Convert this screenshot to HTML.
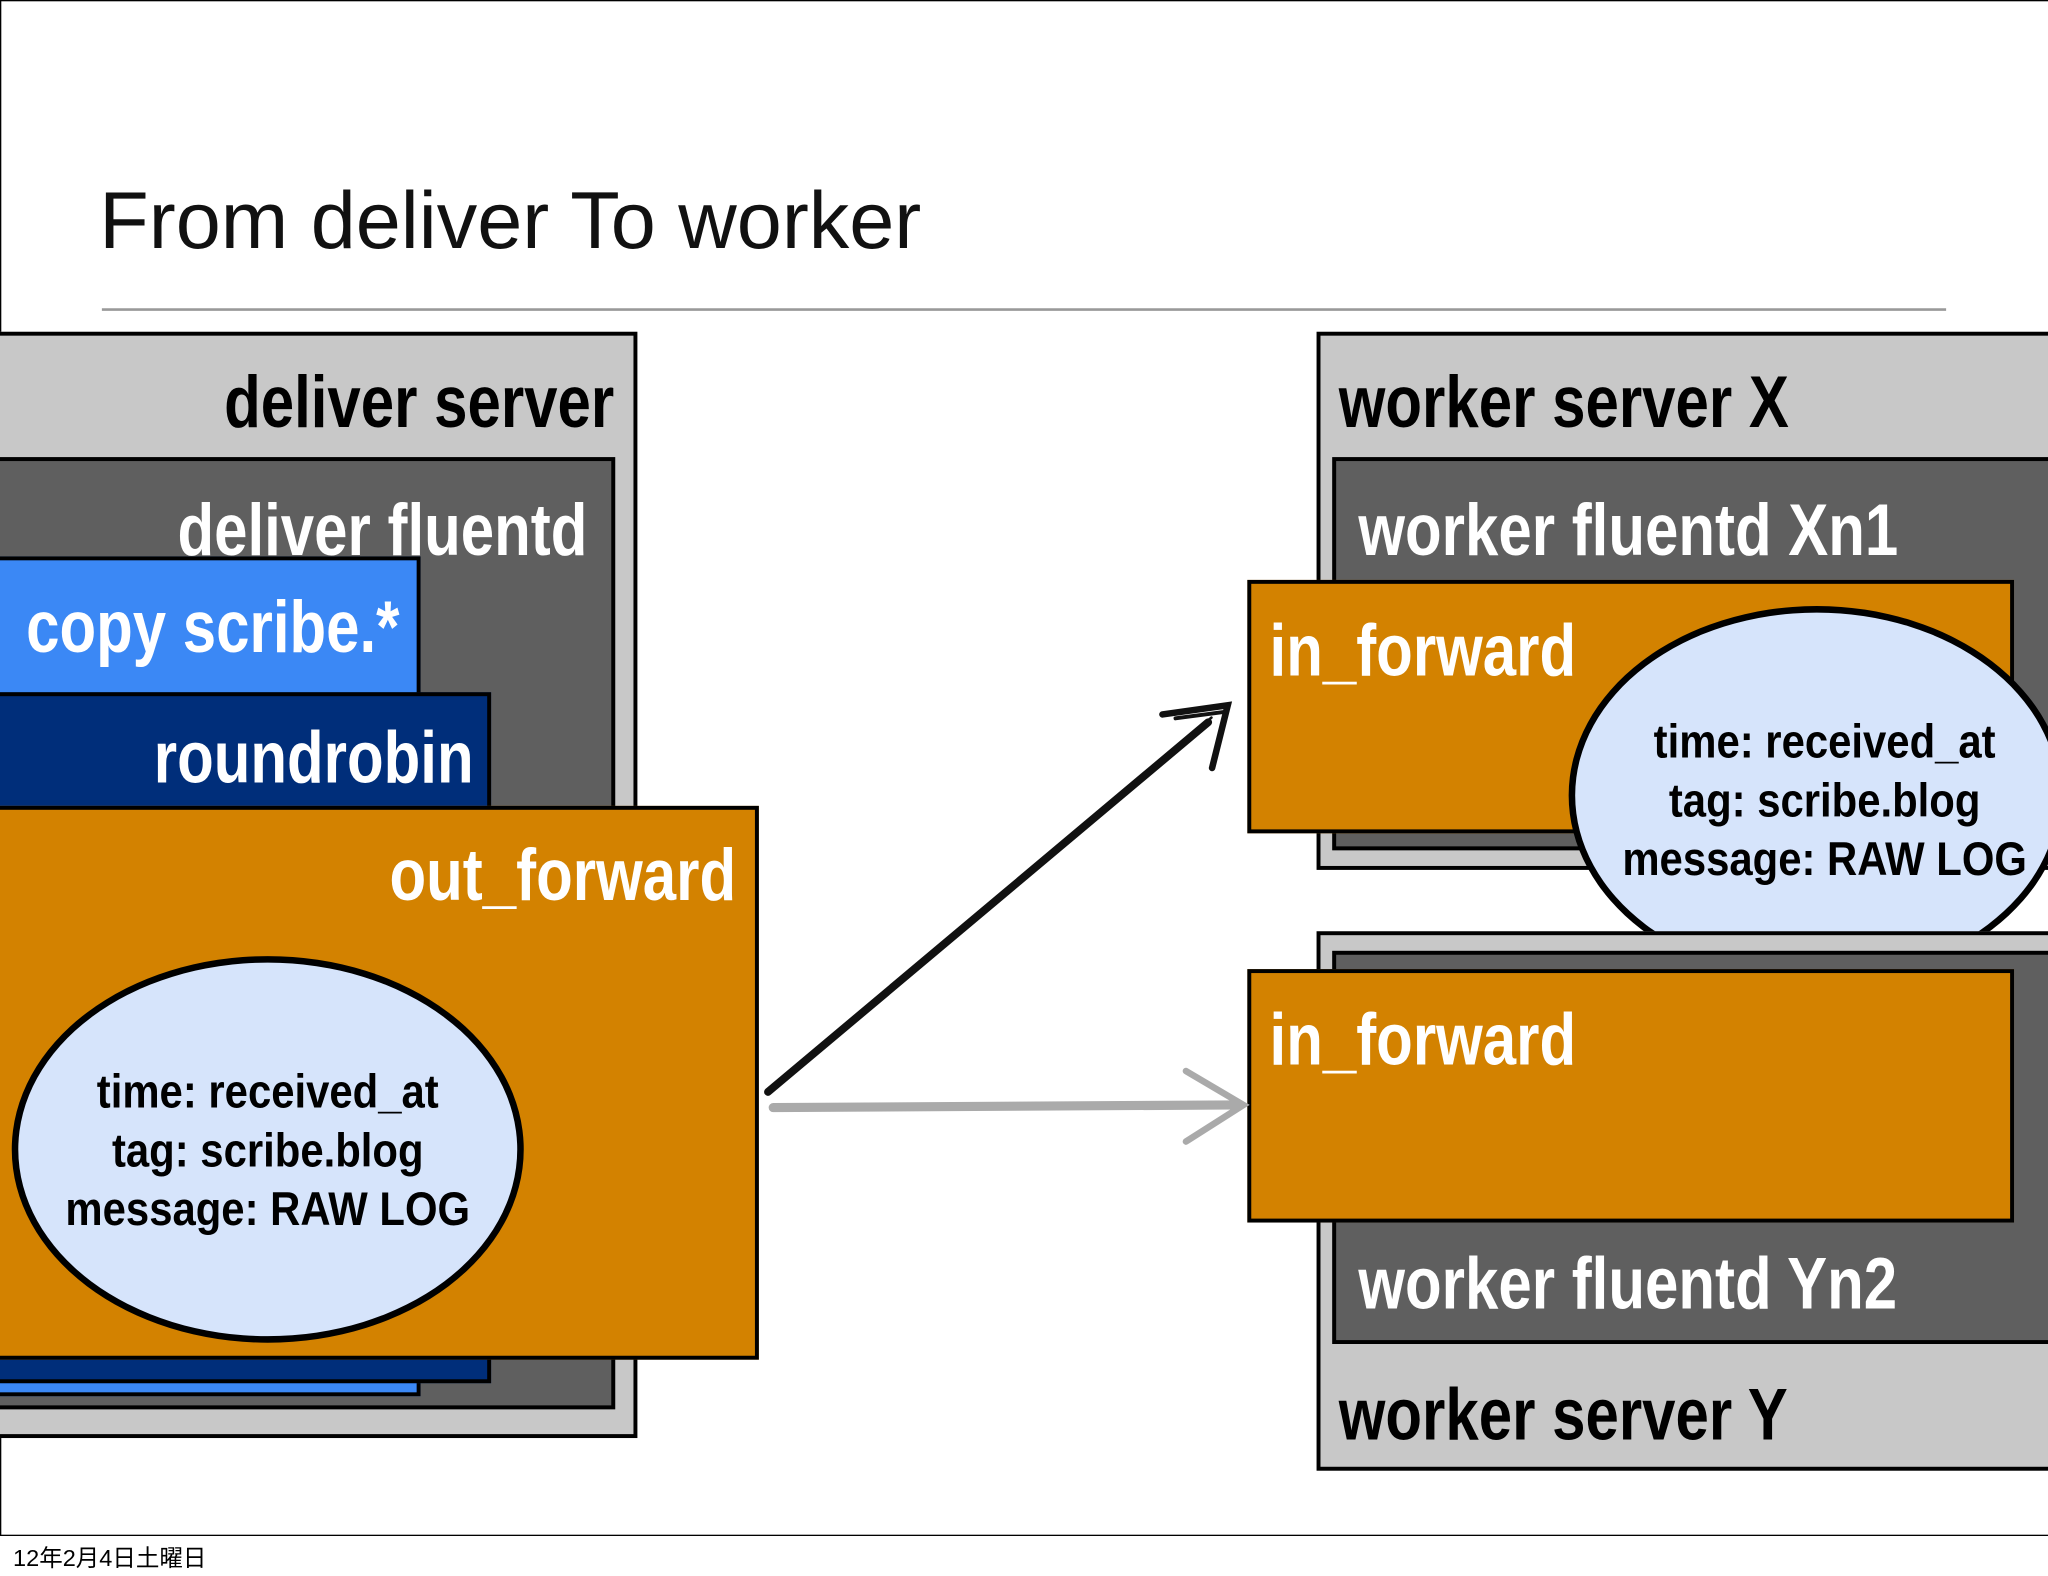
<!DOCTYPE html>
<html><head><meta charset="utf-8"><style>
html,body{margin:0;padding:0;background:#fff;overflow:hidden}
#c{position:absolute;left:0;top:0;width:1568px;height:1206px;transform:scale(1.30612);transform-origin:0 0;font-family:"Liberation Sans",sans-serif;overflow:hidden}
.b{position:absolute;box-sizing:border-box;border:3px solid #000}
.t{position:absolute;font-weight:bold;white-space:nowrap;transform:scaleX(0.82);line-height:1}
.r{transform-origin:right top}
.l{transform-origin:left top}
.e{position:absolute;box-sizing:border-box;border:5px solid #000;border-radius:50%;background:#d6e4fb}
.et{position:absolute;font-weight:bold;font-size:36px;line-height:45px;text-align:center;transform:scaleX(0.89);white-space:nowrap}
</style></head><body><div id="c">
<div style="position:absolute;left:0;top:0;width:1568px;height:1176px;border-left:1px solid #000;border-top:1px solid #000;border-bottom:1px solid #000;box-sizing:border-box"></div>
<div style="position:absolute;left:76px;top:134px;font-size:62px;font-weight:300;color:#111">From deliver To worker</div>
<div style="position:absolute;left:78px;top:236px;width:1412px;height:2px;background:#999"></div>

<div class="b" style="left:-3px;top:254px;width:491px;height:847px;background:#c8c8c8"></div>
<div class="t r" style="right:1098px;top:280px;font-size:56px;color:#000">deliver server</div>
<div class="b" style="left:-3px;top:350px;width:474px;height:729px;background:#5f5f5f"></div>
<div class="t r" style="right:1118px;top:378px;font-size:56px;color:#fff">deliver fluentd</div>
<div class="b" style="left:-3px;top:426px;width:325px;height:643px;background:#3b88f5"></div>
<div class="t l" style="left:20px;top:452px;font-size:56px;color:#fff">copy scribe.*</div>
<div class="b" style="left:-3px;top:530px;width:379px;height:529px;background:#002e7a"></div>
<div class="t r" style="right:1205px;top:552px;font-size:56px;color:#fff">roundrobin</div>
<div class="b" style="left:-3px;top:617px;width:584px;height:424px;background:#d38200"></div>
<div class="t r" style="right:1004px;top:642px;font-size:56px;color:#fff">out_forward</div>
<div class="e" style="left:9px;top:732px;width:392px;height:296px"></div>
<div class="et" style="left:5px;top:813px;width:400px">time: received_at<br>tag: scribe.blog<br>message: RAW LOG</div>

<div class="b" style="left:1008px;top:254px;width:565px;height:412px;background:#c8c8c8"></div>
<div class="t l" style="left:1025px;top:280px;font-size:56px;color:#000">worker server X</div>
<div class="b" style="left:1020px;top:350px;width:553px;height:301px;background:#5f5f5f"></div>
<div class="t l" style="left:1040px;top:378px;font-size:56px;color:#fff">worker fluentd Xn1</div>
<div class="b" style="left:955px;top:444px;width:587px;height:194px;background:#d38200"></div>
<div class="t l" style="left:972px;top:470px;font-size:56px;color:#fff">in_forward</div>

<div class="e" style="left:1201px;top:464px;width:380px;height:290px"></div>
<div class="et" style="left:1197px;top:545px;width:400px">time: received_at<br>tag: scribe.blog<br>message: RAW LOG</div>

<div class="b" style="left:1008px;top:713px;width:565px;height:413px;background:#c8c8c8"></div>
<div class="b" style="left:1020px;top:728px;width:553px;height:301px;background:#5f5f5f"></div>
<div class="b" style="left:955px;top:742px;width:587px;height:194px;background:#d38200"></div>
<div class="t l" style="left:972px;top:768px;font-size:56px;color:#fff">in_forward</div>
<div class="t l" style="left:1040px;top:955px;font-size:56px;color:#fff">worker fluentd Yn2</div>
<div class="t l" style="left:1025px;top:1055px;font-size:56px;color:#000">worker server Y</div>

<svg style="position:absolute;left:0;top:0" width="1568" height="1206">
<g stroke="#111" stroke-linecap="round" fill="none">
<path d="M588 836 L925 553" stroke-width="6"/>
<path d="M592 831 L928 549" stroke-width="2" stroke-dasharray="3 2"/>
<path d="M890 547 L940 540 L928 588" stroke-width="5"/>
<path d="M900 550 L938 545" stroke-width="3"/>
</g>
<g stroke="#aaa" stroke-linecap="round" fill="none">
<path d="M592 848 L945 846" stroke-width="7"/>
<path d="M908 820 L952 846 L908 874" stroke-width="5"/>
</g>
</svg>
<div style="position:absolute;left:10px;top:1179px;font-size:18px;font-family:'Liberation Sans','Noto Sans CJK JP',sans-serif">12年2月4日土曜日</div>
</div></body></html>
